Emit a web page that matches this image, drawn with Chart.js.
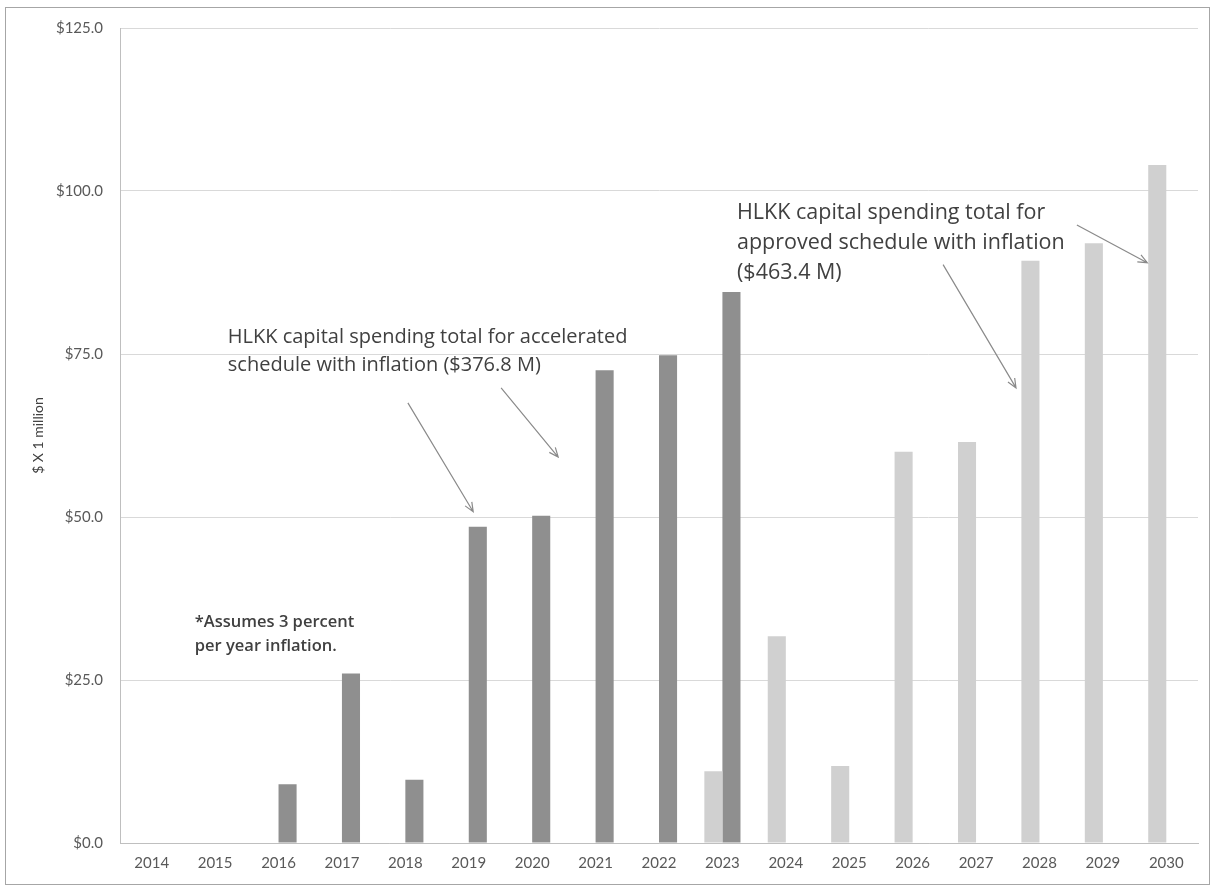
<!DOCTYPE html>
<html lang="en">
<head>
<meta charset="UTF-8">
<title>HLKK capital spending</title>
<script src="https://cdn.jsdelivr.net/npm/chart.js@4.4.1/dist/chart.umd.min.js"></script>
<style>
  body {
    margin: 0;
    background-color: #fff;
  }
  .chart-box {
    width: 1215px;
    height: 888px;
  }
</style>
</head>
<body>

<div class="chart-box">
  <canvas id="spendChart"></canvas>
</div>

<script>
  // data ($ x 1 million)
  const years = ['2014', '2015', '2016', '2017', '2018', '2019', '2020', '2021', '2022',
                 '2023', '2024', '2025', '2026', '2027', '2028', '2029', '2030'];
  const approved = [null, null, null, null, null, null, null, null, null,
                    11.0, 31.7, 11.8, 60.0, 61.5, 89.3, 92.0, 104.0];
  const accelerated = [null, null, 9.0, 26.0, 9.7, 48.5, 50.2, 72.5, 74.8,
                       84.5, null, null, null, null, null, null, null];
  const yTicks = [0, 25, 50, 75, 100, 125];

  // notes and arrows, placed in data units (x = category index, y = value)
  const notes = [
    { x: 1.20, y: 77.6, step: 28, font: '20px "Open Sans", sans-serif', lines: ['HLKK capital spending total for accelerated', 'schedule with inflation ($376.8 M)'] },
    { x: 9.23, y: 96.7, step: 30, font: '21.5px "Open Sans", sans-serif', lines: ['HLKK capital spending total for', 'approved schedule with inflation', '($463.4 M)'] },
    { x: 0.68, y: 33.8, step: 24, font: '600 16.5px "Open Sans", sans-serif', lines: ['*Assumes 3 percent', 'per year inflation.'] }
  ];
  const arrows = [
    { from: [4.04, 67.5], to: [5.07, 50.8] },
    { from: [5.51, 69.8], to: [6.41, 59.2] },
    { from: [12.48, 88.7], to: [13.63, 69.8] },
    { from: [14.59, 94.8], to: [15.70, 89.0] }
  ];

  const fontFamily = 'Lato, "Open Sans", sans-serif';

  const notesPlugin = {
    id: 'notes',
    afterDatasetsDraw(chart) {
      const ctx = chart.ctx;
      const xs = chart.scales.x, ys = chart.scales.y;
      const catW = xs.width / years.length;
      const px = v => xs.left + (v + 0.5) * catW;
      const py = v => ys.getPixelForValue(v);

      ctx.save();
      // outer frame
      ctx.strokeStyle = '#a6a6a6';
      ctx.lineWidth = 1;
      ctx.strokeRect(5.5, 7.5, chart.width - 11, chart.height - 11);

      // text notes
      ctx.fillStyle = '#404040';
      ctx.textBaseline = 'middle';
      ctx.textAlign = 'left';
      notes.forEach(n => {
        ctx.font = n.font;
        n.lines.forEach((t, i) => ctx.fillText(t, px(n.x), py(n.y) + i * n.step));
      });

      // arrows
      ctx.strokeStyle = '#8a8a8a';
      ctx.lineWidth = 1.2;
      arrows.forEach(a => {
        const x1 = px(a.from[0]), y1 = py(a.from[1]);
        const x2 = px(a.to[0]), y2 = py(a.to[1]);
        const ang = Math.atan2(y2 - y1, x2 - x1);
        ctx.beginPath();
        ctx.moveTo(x1, y1);
        ctx.lineTo(x2, y2);
        ctx.moveTo(x2 - 10 * Math.cos(ang - 0.4), y2 - 10 * Math.sin(ang - 0.4));
        ctx.lineTo(x2, y2);
        ctx.lineTo(x2 - 10 * Math.cos(ang + 0.4), y2 - 10 * Math.sin(ang + 0.4));
        ctx.stroke();
      });
      ctx.restore();
    }
  };

  new Chart('spendChart', {
    type: 'bar',
    data: {
      labels: years,
      datasets: [{
        label: 'Approved schedule',
        data: approved,
        backgroundColor: '#d0d0d0',
        categoryPercentage: 0.57,
        barPercentage: 1.0
      }, {
        label: 'Accelerated schedule',
        data: accelerated,
        backgroundColor: '#8f8f8f',
        categoryPercentage: 0.57,
        barPercentage: 1.0
      }]
    },
    options: {
      responsive: true,
      maintainAspectRatio: false,
      animation: false,
      layout: {
        padding: { left: 30, top: 28, right: 17, bottom: 0 }
      },
      plugins: {
        legend: { display: false },
        tooltip: { enabled: false }
      },
      scales: {
        x: {
          grid: { display: false, drawTicks: false },
          border: { color: '#bfbfbf' },
          ticks: {
            color: '#595959',
            font: { family: fontFamily, size: 15 },
            padding: 11,
            maxRotation: 0
          },
          afterFit(s) { s.height = 45; }
        },
        y: {
          min: 0,
          max: 125,
          afterBuildTicks(s) { s.ticks = yTicks.map(v => ({ value: v })); },
          grid: { color: '#d9d9d9', drawTicks: false },
          border: { color: '#bfbfbf' },
          ticks: {
            color: '#595959',
            font: { family: fontFamily, size: 15 },
            padding: 17,
            callback: v => '$' + Number(v).toFixed(1)
          },
          title: {
            display: true,
            text: '$ X 1 million',
            color: '#404040',
            font: { family: fontFamily, size: 14 },
            padding: 0
          },
          afterFit(s) { s.width = 90; }
        }
      }
    },
    plugins: [notesPlugin]
  });
</script>

</body>
</html>
